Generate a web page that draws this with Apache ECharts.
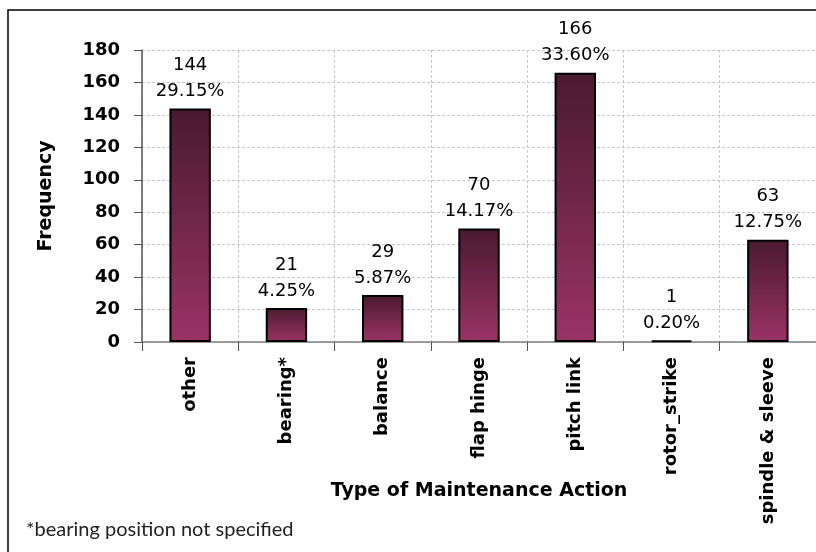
<!DOCTYPE html>
<html>
<head>
<meta charset="utf-8">
<script src="https://cdn.jsdelivr.net/npm/echarts@6/dist/echarts.min.js"></script>
<style>html,body{margin:0;padding:0;background:#fff;}#c{width:816px;height:552px;}</style>
</head>
<body>
<div id="c"></div>
<script>
const categories = ['other', 'bearing*', 'balance', 'flap hinge', 'pitch link', 'rotor_strike', 'spindle & sleeve'];
const frequency = [144, 21, 29, 70, 166, 1, 63];
const yTicks = [0, 20, 40, 60, 80, 100, 120, 140, 160, 180];
const xAxisTitle = 'Type of Maintenance Action';
const yAxisTitle = 'Frequency';
const footnote = '*bearing position not specified';

const total = frequency.reduce((a, b) => a + b, 0);
const chart = echarts.init(document.getElementById('c'), null, {renderer: 'canvas'});
const boldFont = '"DejaVu Sans", sans-serif';

chart.setOption({
  animation: false,
  backgroundColor: '#fff',
  grid: {left: 142, top: 50, right: 0, bottom: 210, containLabel: false},
  graphic: [
    {type: 'rect', shape: {x: 8, y: 10, width: 830, height: 570}, style: {fill: 'none', stroke: '#000', lineWidth: 1.5}, z: 0},
    {type: 'text', x: 479, y: 491, style: {text: xAxisTitle, font: 'bold 19px ' + boldFont, fill: '#000', align: 'center', verticalAlign: 'middle'}},
    {type: 'text', x: 26, y: 530, style: {text: footnote, font: '20px Lato, "Open Sans", sans-serif', fill: '#222', align: 'left', verticalAlign: 'middle'}}
  ],
  xAxis: {
    type: 'category',
    data: categories,
    axisLine: {lineStyle: {color: '#808080', width: 1.5}},
    axisTick: {show: true, length: 9, lineStyle: {color: '#555'}},
    axisLabel: {rotate: 90, margin: 15, fontFamily: boldFont, fontWeight: 'bold', fontSize: 18, color: '#000'},
    splitLine: {show: true, lineStyle: {color: '#c8c8c8', type: [3, 2]}}
  },
  yAxis: {
    type: 'value',
    min: 0, max: 180, interval: 20,
    name: yAxisTitle,
    nameLocation: 'middle',
    nameGap: 86,
    nameTextStyle: {fontFamily: boldFont, fontWeight: 'bold', fontSize: 19, color: '#000'},
    axisLine: {show: true, lineStyle: {color: '#555', width: 1.5}},
    axisTick: {show: true, length: 8, lineStyle: {color: '#555'}},
    axisLabel: {
      margin: 22, fontFamily: boldFont, fontWeight: 'bold', fontSize: 18, color: '#000',
      formatter: v => yTicks.includes(v) ? String(v) : ''
    },
    splitLine: {show: true, lineStyle: {color: '#c8c8c8', type: [3, 2]}}
  },
  series: [{
    type: 'bar',
    data: frequency,
    barWidth: '43%',
    itemStyle: {
      borderColor: '#000', borderWidth: 2,
      color: new echarts.graphic.LinearGradient(0, 0, 0, 1, [
        {offset: 0, color: '#4a1a2f'},
        {offset: 1, color: '#9a3366'}
      ])
    },
    label: {
      show: true, position: 'top', distance: 4,
      fontFamily: '"DejaVu Sans", Verdana, sans-serif', fontSize: 18, color: '#000', lineHeight: 26,
      formatter: p => p.value + '\n' + (p.value / total * 100).toFixed(2) + '%'
    }
  }]
});
</script>
</body>
</html>
